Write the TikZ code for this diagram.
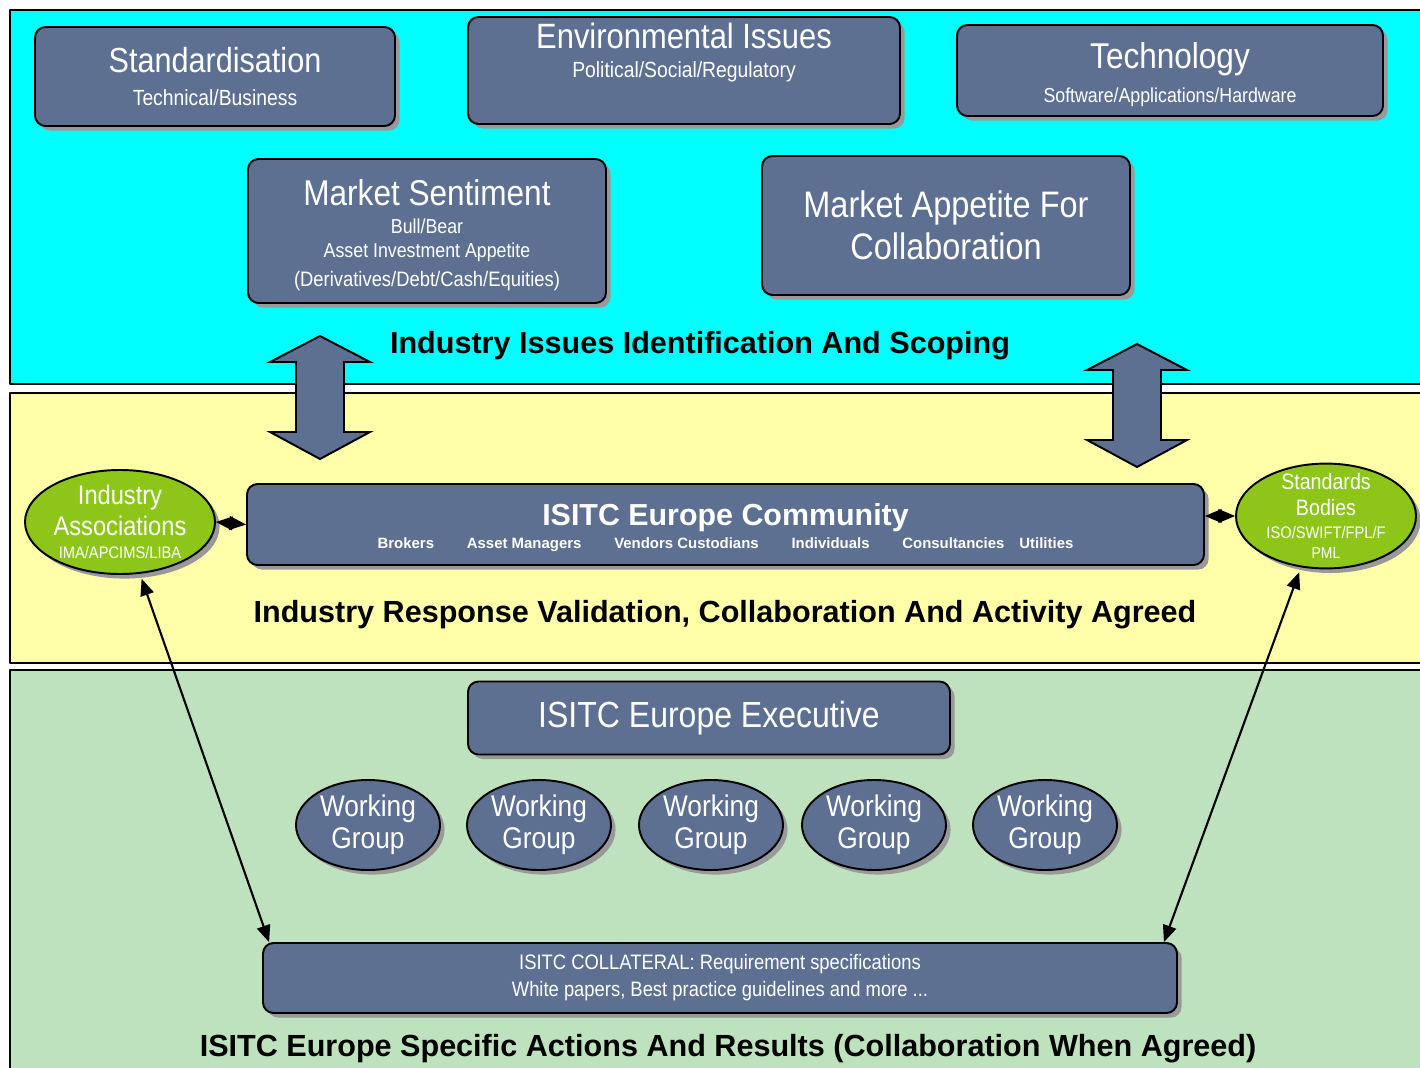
\documentclass[tikz,border=0pt]{standalone}
\usepackage{fontspec}
\setmainfont[FakeStretch=0.88]{Liberation Sans}
\newfontfamily\labelfont{Liberation Sans}
\usetikzlibrary{arrows,shadows,shapes.geometric}

\definecolor{slate}{RGB}{93,112,145}
\definecolor{bandcyan}{RGB}{0,255,255}
\definecolor{bandyellow}{RGB}{255,255,170}
\definecolor{bandgreen}{RGB}{190,225,190}
\definecolor{limegreen}{RGB}{141,198,25}

\newcommand{\fsz}[2]{\fontsize{#1}{#2}\selectfont}

\tikzset{
  boxsize/.style 2 args={minimum width=#1*0.02cm, minimum height=#2*0.02cm},
  slatebox/.style={draw=black, line width=1.1pt, fill=slate, rounded corners=6pt, text=white, align=center, inner sep=0pt,
    drop shadow={shadow xshift=2.6pt, shadow yshift=-2.6pt, fill=black!40, opacity=1}},
  slateoval/.style={slatebox, ellipse, sharp corners},
  greenoval/.style={slateoval, fill=limegreen, inner sep=-3pt},
  bandlabel/.style={font=\labelfont\bfseries\fsz{17.4}{20}, text=black},
  band/.style={draw=black, line width=1.6pt},
  fatarrow/.style={draw=black, line width=1.1pt, fill=slate, line join=miter},
  link/.style={<->, line width=1.2pt}
}

\begin{document}
\begin{tikzpicture}[line cap=round,line join=round,>=triangle 45,x=0.02cm,y=-0.02cm]
\useasboundingbox (0,0) rectangle (1420,1068);
\clip (0,0) rectangle (1420,1068);
\draw[band, fill=bandcyan] (10,10) rectangle (1440,384);
\draw[band, fill=bandyellow] (10,393) rectangle (1440,663);
\draw[band, fill=bandgreen] (10,670) rectangle (1440,1090);

\foreach \ax/\at/\ab in {320/336/459, 1137/344/467}
  \draw[fatarrow] (\ax,\at) -- (\ax+50,\at+26) -- (\ax+24,\at+26) -- (\ax+24,\ab-27) -- (\ax+50,\ab-27)
    -- (\ax,\ab) -- (\ax-50,\ab-27) -- (\ax-24,\ab-27) -- (\ax-24,\at+26) -- (\ax-50,\at+26) -- cycle;

\node[slatebox, boxsize={360}{99}, font=\fsz{19.8}{19pt}] (stand) at (215,76.5)
  {Standardisation\\{\fsz{12.5}{19pt}Technical/Business}};
\node[slatebox, boxsize={432}{107}, font=\fsz{20}{17pt}] (environ) at (684,70.5)
  {Environmental Issues\\{\fsz{12.5}{17pt}Political/Social/Regulatory}\\[6pt] \mbox{}};
\node[slatebox, boxsize={426}{91}, font=\fsz{20.4}{19.5pt}] (techno) at (1170,70.5)
  {\mbox{}\\[0pt]Technology\\{\fsz{11.5}{19.5pt}Software/Applications/Hardware}};
\node[slatebox, boxsize={358}{144}, font=\fsz{20.4}{13.6pt}] (sentiment) at (427,231)
  {\mbox{}\\[3.6pt]Market Sentiment\\[2.8pt]{\fsz{11.5}{13.6pt}Bull/Bear}\\{\fsz{11.5}{13.6pt}Asset Investment Appetite}\\[2.8pt]{\fsz{11.9}{13.6pt}(Derivatives/Debt/Cash/Equities)}};
\node[slatebox, boxsize={368}{139}, font=\fsz{21}{23.8pt}] (appetite) at (946,225.5)
  {Market Appetite For\\Collaboration};
\node[bandlabel] (scoping) at (700,346) {Industry Issues Identification And Scoping};

\node[slatebox, boxsize={957}{81}, font=\labelfont\bfseries\fsz{17.3}{13pt}] (community) at (725.5,524.5)
  {\mbox{}\\[3.4pt]ISITC Europe Community\\{\fsz{8.5}{13pt}Brokers\hspace{2.2em}Asset Managers\hspace{2.2em}Vendors Custodians\hspace{2.2em}Individuals\hspace{2.2em}Consultancies\hspace{1em}Utilities}};
\node[greenoval, boxsize={190}{104}, font=\fsz{15.3}{15pt}] (assoc) at (120,522)
  {Industry\\[2.8pt]Associations\\[-2pt]{\fsz{9.5}{15pt}IMA/APCIMS/LIBA}};
\node[greenoval, boxsize={180}{100}, font=\fsz{12.7}{13pt}] (stds) at (1326,516)
  {Standards\\[1.5pt]Bodies\\{\fsz{9.5}{13pt}ISO/SWIFT/FPL/F}\\[-1.5pt]{\fsz{9}{13pt}PML}};
\node[bandlabel] (response) at (725,615) {Industry Response Validation, Collaboration And Activity Agreed};

\node[slatebox, boxsize={482}{73}, font=\fsz{20.7}{20pt}] (exec) at (709,718) {ISITC Europe Executive};
\foreach \wx [count=\i] in {368,539,711,874,1045}
  \node[slateoval, boxsize={144}{90}, font=\fsz{17}{18pt}] (wg\i) at (\wx,825) {Working\\Group};
\node[slatebox, boxsize={914}{70}, font=\fsz{11.9}{15.3pt}] (collateral) at (720,978)
  {ISITC COLLATERAL: Requirement specifications\\White papers, Best practice guidelines and more ...};
\node[bandlabel] (actions) at (728,1049) {ISITC Europe Specific Actions And Results (Collaboration When Agreed)};

\draw[link] (assoc.east) -- (community.west);
\draw[link] (community.east |- stds.west) -- (stds.west);
\draw[link, shorten <=3pt] (assoc.-69) -- ([xshift=4pt]collateral.north west);
\draw[link, shorten <=3pt] (stds.-116) -- ([xshift=-8pt]collateral.north east);
\end{tikzpicture}
\end{document}
